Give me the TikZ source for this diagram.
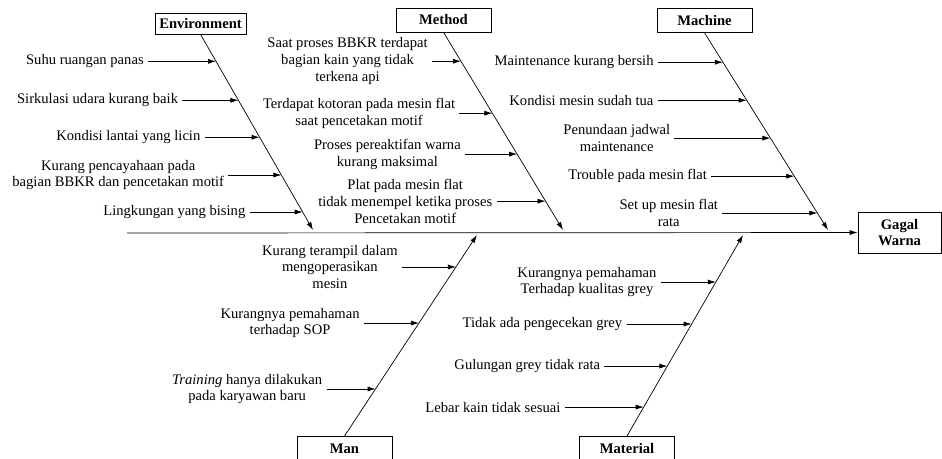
\documentclass[tikz,border=0pt]{standalone}
\usepackage{fontspec}
\setmainfont{Liberation Serif}
\usetikzlibrary{arrows.meta,positioning,calc}
\newcommand{\fishfont}{\fontsize{14.6}{16.8}\selectfont}
\tikzset{
  cat/.style={draw,font=\fishfont\bfseries,minimum width=95pt,minimum height=24pt,inner sep=1pt},
  cause/.style={align=center,inner xsep=4pt,inner ysep=0pt},
}

\begin{document}
\begin{tikzpicture}[x=1pt,y=-1pt,line width=0.7pt,font=\fishfont,>={Latex[length=8pt,width=5pt]}]
\useasboundingbox (0,0) rectangle (942,458);
\node [cat,minimum width=91pt,minimum height=21pt] (env) at (200.5,23.5) {Environment};
\node [cat] (met) at (443.5,20) {Method};
\node [cat] (mac) at (704.5,20.5) {Machine};
\node [cat,anchor=north] (man) at (344.5,436) {Man};
\node [cat,anchor=north] (mat) at (627,436) {Material};
\node [cat,minimum width=83pt,minimum height=41pt,align=center] (gw) at (899.5,232.5) {Gagal\\Warna};
\coordinate (sp) at (127,233);
\coordinate (envend) at (313,230);	\coordinate (metend) at (563,230);	\coordinate (macend) at (828,230);
\coordinate (manend) at (477,235);	\coordinate (matend) at (743,235);
\draw [->] (sp) -- (gw);
\draw [->] (env.south) -- (envend);	\draw [->] (met.south) -- (metend);	\draw [->] (mac.south) -- (macend);
\draw [->] (man.north) -- (manend);	\draw [->] (mat.north) -- (matend);

\coordinate (e1) at ($(env.south)!.138!(envend)$);	\node [cause,left=68pt of e1] (ce1) {Suhu ruangan panas};	\draw [->] (ce1) -- (e1);
\coordinate (e2) at ($(env.south)!.337!(envend)$);	\node [cause,left=56pt of e2] (ce2) {Sirkulasi udara kurang baik};	\draw [->] (ce2) -- (e2);
\coordinate (e3) at ($(env.south)!.526!(envend)$);	\node [cause,left=55pt of e3] (ce3) {Kondisi lantai yang licin};	\draw [->] (ce3) -- (e3);
\coordinate (e4) at ($(env.south)!.719!(envend)$);	\node [cause,left=53pt of e4] (ce4) {Kurang pencayahaan pada\\bagian BBKR dan pencetakan motif};	\draw [->] (ce4) -- (e4);
\coordinate (e5) at ($(env.south)!.908!(envend)$);	\node [cause,left=53pt of e5] (ce5) {Lingkungan yang bising};	\draw [->] (ce5) -- (e5);

\coordinate (t1) at ($(met.south)!.146!(metend)$);	\node [cause,left=29pt of t1] (ct1) {Saat proses BBKR terdapat\\bagian kain yang tidak\\terkena api};	\draw [->] (ct1) -- (t1);
\coordinate (t2) at ($(met.south)!.409!(metend)$);	\node [cause,left=33pt of t2] (ct2) {Terdapat kotoran pada mesin flat\\saat pencetakan motif};	\draw [->] (ct2) -- (t2);
\coordinate (t3) at ($(met.south)!.616!(metend)$);	\node [cause,left=52pt of t3] (ct3) {Proses pereaktifan warna\\kurang maksimal};	\draw [->] (ct3) -- (t3);
\coordinate (t4) at ($(met.south)!.854!(metend)$);	\node [cause,left=49pt of t4] (ct4) {Plat pada mesin flat\\tidak menempel ketika proses\\Pencetakan motif};	\draw [->] (ct4) -- (t4);

\coordinate (c1) at ($(mac.south)!.149!(macend)$);	\node [cause,left=65pt of c1] (cc1) {Maintenance kurang bersih};	\draw [->] (cc1) -- (c1);
\coordinate (c2) at ($(mac.south)!.342!(macend)$);	\node [cause,left=89pt of c2] (cc2) {Kondisi mesin sudah tua};	\draw [->] (cc2) -- (c2);
\coordinate (c3) at ($(mac.south)!.534!(macend)$);	\node [cause,left=96pt of c3] (cc3) {Penundaan jadwal\\maintenance};	\draw [->] (cc3) -- (c3);
\coordinate (c4) at ($(mac.south)!.727!(macend)$);	\node [cause,left=83pt of c4] (cc4) {Trouble pada mesin flat};	\draw [->] (cc4) -- (c4);
\coordinate (c5) at ($(mac.south)!.914!(macend)$);	\node [cause,left=95pt of c5] (cc5) {Set up mesin flat\\rata};	\draw [->] (cc5) -- (c5);

\coordinate (m1) at ($(man.north)!.841!(manend)$);	\node [cause,left=54pt of m1] (cm1) {Kurang terampil dalam\\mengoperasikan\\mesin};	\draw [->] (cm1) -- (m1);
\coordinate (m2) at ($(man.north)!.562!(manend)$);	\node [cause,left=55pt of m2] (cm2) {Kurangnya pemahaman\\terhadap SOP};	\draw [->] (cm2) -- (m2);
\coordinate (m3) at ($(man.north)!.234!(manend)$);	\node [cause,left=49pt of m3] (cm3) {\textit{Training} hanya dilakukan\\pada karyawan baru};	\draw [->] (cm3) -- (m3);

\coordinate (r1) at ($(mat.north)!.766!(matend)$);	\node [cause,left=55pt of r1] (cr1) {Kurangnya pemahaman\\Terhadap kualitas grey};	\draw [->] (cr1) -- (r1);
\coordinate (r2) at ($(mat.north)!.557!(matend)$);	\node [cause,left=65pt of r2] (cr2) {Tidak ada pengecekan grey};	\draw [->] (cr2) -- (r2);
\coordinate (r3) at ($(mat.north)!.348!(matend)$);	\node [cause,left=63pt of r3] (cr3) {Gulungan grey tidak rata};	\draw [->] (cr3) -- (r3);
\coordinate (r4) at ($(mat.north)!.144!(matend)$);	\node [cause,left=79pt of r4] (cr4) {Lebar kain tidak sesuai};	\draw [->] (cr4) -- (r4);
\end{tikzpicture}
\end{document}
